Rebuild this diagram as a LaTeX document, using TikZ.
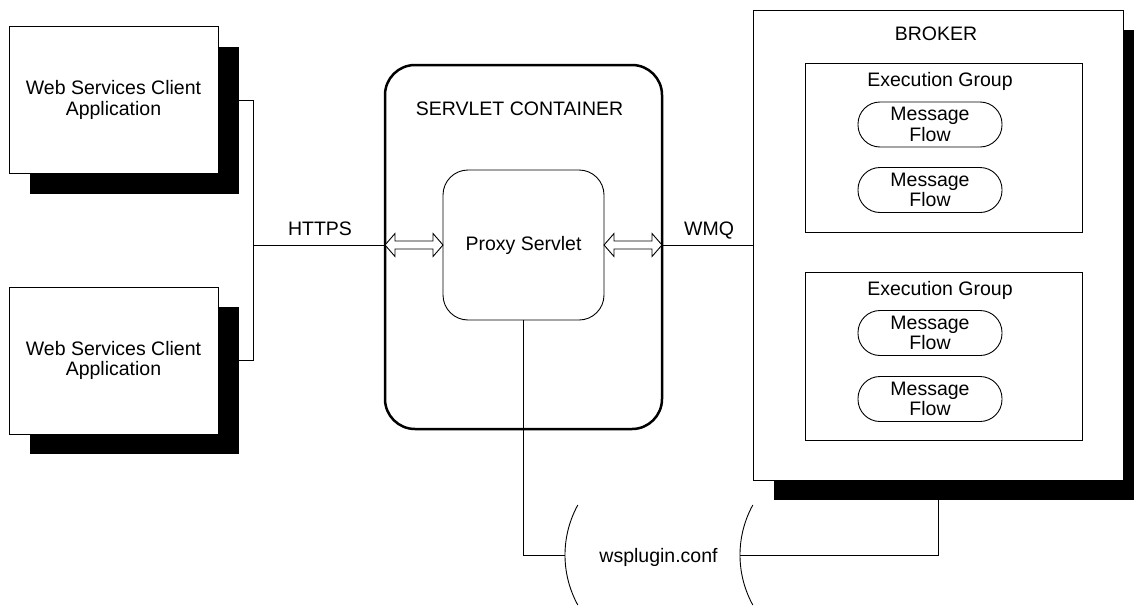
\documentclass[tikz,border=0pt]{standalone}
\usepackage{fontspec}
\setmainfont{Liberation Sans}
\usetikzlibrary{calc,shadows}
\begin{document}
\begin{tikzpicture}[x=1pt,y=-1pt,line width=0.9pt,
  every node/.style={inner sep=0pt,outer sep=0pt,font=\fontsize{19.5}{20.5}\selectfont},
  lbl/.style={anchor=base},
  plainbox/.style={draw,fill=white,rectangle},
  shadowbox/.style={plainbox,drop shadow={shadow xshift=21pt,shadow yshift=-20pt,opacity=1,fill=black}},
  client/.style={shadowbox,minimum width=209pt,minimum height=147pt,align=center},
  group/.style={plainbox,minimum width=277pt,minimum height=169pt},
  flow/.style={draw,fill=white,rounded corners=22pt,minimum width=144pt,minimum height=45pt,align=center},
  twoway/.style={draw,fill=white,line join=miter}]

\useasboundingbox (0,0) rectangle (1134,605);
\clip (0,0) rectangle (1134,605);

% client applications
\node[client] (c1) at (113.5,100) {Web Services Client\\Application};
\node[client] (c2) at (113.5,360.5) {Web Services Client\\Application};

% servlet container and proxy servlet
\node[draw,line width=2.5pt,rounded corners=30pt,minimum width=277pt,minimum height=364pt] (cont) at (523.5,247) {};
\node[lbl] (contlbl) at (519.5,115) {SERVLET CONTAINER};
\node[draw,rounded corners=25pt,minimum width=161pt,minimum height=150pt] (proxy) at (523.5,245) {Proxy Servlet};

% broker with its execution groups
\node[shadowbox,minimum width=370pt,minimum height=470pt] (broker) at (938,245) {};
\node[lbl] (brokerlbl) at (936,40) {BROKER};

\node[group] (eg1) at (943.5,147.5) {};
\node[lbl] (eg1lbl) at (940,86) {Execution Group};
\node[flow] (f1) at (930,124.5) {Message\\Flow};
\node[flow] (f2) at (930,190) {Message\\Flow};

\node[group,minimum height=168pt] (eg2) at (943.5,356) {};
\node[lbl] (eg2lbl) at (940,295) {Execution Group};
\node[flow] (f3) at (930,333) {Message\\Flow};
\node[flow] (f4) at (930,399) {Message\\Flow};

% configuration file
\node[lbl] (conf) at (658.5,562) {wsplugin.conf};
\coordinate (confL) at (565,555);
\coordinate (confR) at (740,555);
\draw (577.8,505) arc[start angle=208.74,end angle=151.26,radius=104];
\draw (752.8,505) arc[start angle=208.74,end angle=151.26,radius=104];

% HTTPS side
\coordinate (b1) at ($(c1.east)+(21,0)$);
\coordinate (b2) at ($(c2.east)+(21,0)$);
\coordinate (j) at ($(b1)+(14,0)$);
\coordinate (hl) at (cont.west |- proxy.west);
\draw (b1) -- (j) |- (b2);
\draw (j |- hl) -- (hl);
\node[lbl] (https) at (320,235) {HTTPS};
\draw[twoway] (hl) -- ++(10,-11.5) -- ++(0,7.5) -- ($(proxy.west)+(-10,-4)$)
  -- ++(0,-7.5) -- (proxy.west) -- ++(-10,11.5) -- ++(0,-7.5)
  -- ($(hl)+(10,4)$) -- ++(0,7.5) -- cycle;

% WMQ side
\coordinate (hr) at (cont.east |- proxy.east);
\draw (hr) -- (broker.west |- hr);
\node[lbl] (wmq) at (709,235) {WMQ};
\draw[twoway] (proxy.east) -- ++(10,-11.5) -- ++(0,7.5) -- ($(hr)+(-10,-4)$)
  -- ++(0,-7.5) -- (hr) -- ++(-10,11.5) -- ++(0,-7.5)
  -- ($(proxy.east)+(10,4)$) -- ++(0,7.5) -- cycle;

% links to the configuration file
\draw (proxy.south) |- (confL);
\draw (confR) -| (broker.south);
\end{tikzpicture}
\end{document}
